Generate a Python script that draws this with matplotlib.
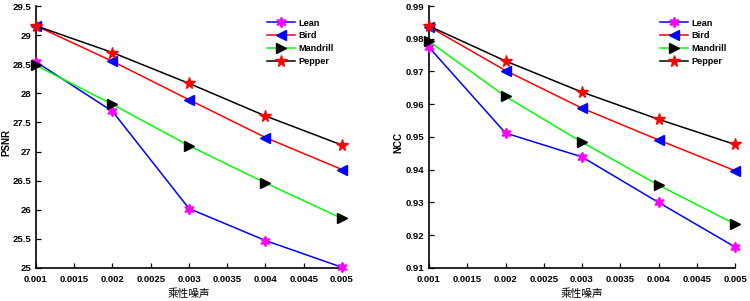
import numpy as np
import matplotlib.pyplot as plt

noise = [0.001, 0.002, 0.003, 0.004, 0.005]
names = ["Lean", "Bird", "Mandrill", "Pepper"]

psnr_lean = [28.54, 27.69, 26.02, 25.47, 25.01]
psnr_bird = [29.16, 28.55, 27.89, 27.24, 26.69]
psnr_mandrill = [28.48, 27.81, 27.10, 26.46, 25.85]
psnr_pepper = [29.16, 28.70, 28.17, 27.61, 27.11]

ncc_lean = [0.9774, 0.9512, 0.9439, 0.9300, 0.9164]
ncc_bird = [0.9837, 0.9703, 0.9588, 0.9491, 0.9397]
ncc_mandrill = [0.9792, 0.9624, 0.9484, 0.9353, 0.9234]
ncc_pepper = [0.9839, 0.9732, 0.9637, 0.9554, 0.9477]

xtick_labels = ["0.001", "0.0015", "0.002", "0.0025", "0.003",
                "0.0035", "0.004", "0.0045", "0.005"]
psnr_ticks = [25, 25.5, 26, 26.5, 27, 27.5, 28, 28.5, 29, 29.5]
psnr_tick_labels = ["25", "25.5", "26", "26.5", "27", "27.5", "28", "28.5", "29", "29.5"]
ncc_ticks = [0.91, 0.92, 0.93, 0.94, 0.95, 0.96, 0.97, 0.98, 0.99]
ncc_tick_labels = ["0.91", "0.92", "0.93", "0.94", "0.95", "0.96", "0.97", "0.98", "0.99"]

plt.rcParams['font.family'] = ['Liberation Sans', 'DejaVu Sans']

# line colour, marker, marker face colour, marker size
styles = [
    ('#0000ff', (6, 1, 0), '#ff00ff', 7.5),
    ('#ff0000', '<', '#0000ff', 7),
    ('#00ff00', '>', '#000000', 7),
    ('#000000', '*', '#ff0000', 8.5),
]

fig = plt.figure(figsize=(7.5, 3.01), dpi=100)
ax1 = fig.add_axes([0.048, 0.110, 0.408, 0.870])
ax2 = fig.add_axes([0.572, 0.110, 0.408, 0.870])


def draw(ax, series, ylim, yticks, yticklabels, ylabel, ylabel_x):
    for name, vals, (lc, mk, mfc, ms) in zip(names, series, styles):
        ax.plot(noise, vals, color=lc, lw=1.1, marker=mk, markersize=ms,
                markerfacecolor=mfc, markeredgecolor=mfc, label=name,
                clip_on=False, zorder=3)
    ax.set_xlim(0.001, 0.005)
    ax.set_ylim(*ylim)
    ax.set_xticks(np.linspace(0.001, 0.005, 9))
    ax.set_xticklabels(xtick_labels, fontweight='bold')
    ax.set_yticks(yticks)
    ax.set_yticklabels(yticklabels, fontweight='bold')
    ax.spines['top'].set_visible(False)
    ax.spines['right'].set_visible(False)
    ax.spines['left'].set_linewidth(1.2)
    ax.spines['bottom'].set_linewidth(1.2)
    ax.tick_params(direction='in', length=3.5, width=0.9, labelsize=6.8)
    ax.tick_params(axis='x', pad=5)
    ax.tick_params(axis='y', pad=3.5)
    ax.set_ylabel(ylabel, fontsize=7, fontweight='bold')
    ax.yaxis.set_label_coords(ylabel_x, 0.48)
    ax.set_xlabel("乘性噪声", fontsize=7.7, family=['Noto Sans CJK SC', 'DejaVu Sans'],
                  labelpad=3)
    leg = ax.legend(loc='upper left', bbox_to_anchor=(0.755, 0.952), frameon=False,
                    fontsize=6.6, handlelength=3.1, labelspacing=0.42,
                    handletextpad=0.35, borderpad=0, borderaxespad=0)
    for t in leg.get_texts():
        t.set_fontweight('bold')


draw(ax1, [psnr_lean, psnr_bird, psnr_mandrill, psnr_pepper], (25, 29.5),
     psnr_ticks, psnr_tick_labels, "PSNR", -0.081)
draw(ax2, [ncc_lean, ncc_bird, ncc_mandrill, ncc_pepper], (0.91, 0.99),
     ncc_ticks, ncc_tick_labels, "NCC", -0.085)

fig.savefig("out.png", dpi=100)
